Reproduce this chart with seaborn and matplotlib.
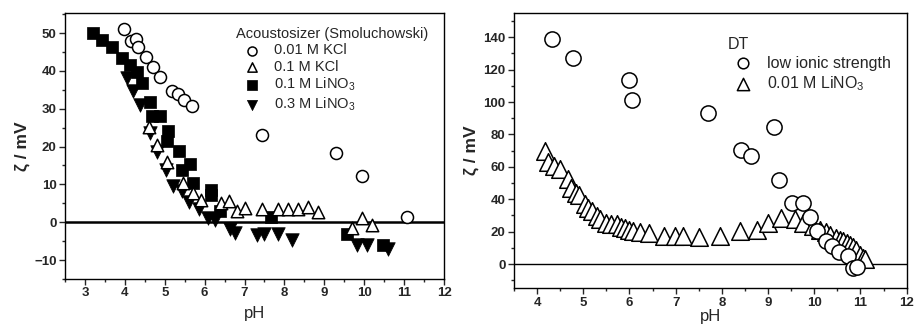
import numpy as np
import pandas as pd
import matplotlib
matplotlib.use("Agg")
import matplotlib.pyplot as plt
from matplotlib.ticker import MultipleLocator
import seaborn as sns

# ---------------- data (left panel: Acoustosizer) ----------------
kcl001_ph = [3.98, 4.15, 4.28, 4.34, 4.52, 4.70, 4.88, 5.19, 5.34, 5.47, 5.69, 7.43, 9.29, 9.95, 11.08]
kcl001_z = [51.0, 47.8, 48.4, 46.4, 43.6, 41.1, 38.4, 34.6, 33.9, 32.2, 30.6, 23.1, 18.3, 12.1, 1.4]

kcl01_ph = [4.6, 4.8, 5.05, 5.45, 5.7, 5.9, 6.4, 6.6, 6.8, 7.0, 7.45, 7.85, 8.1, 8.35, 8.6, 8.85, 9.7, 9.95, 10.2]
kcl01_z = [25.3, 20.5, 16.0, 10.4, 7.8, 6.0, 5.1, 5.5, 2.9, 3.8, 3.5, 3.5, 3.5, 3.5, 4.0, 2.6, -1.5, 1.2, -0.6]

lino01_ph = [3.21, 3.42, 3.68, 3.94, 4.13, 4.30, 4.42, 4.63, 4.67, 4.88, 5.05, 5.09, 5.36, 5.44, 5.63, 5.72, 6.15, 6.17, 6.38, 7.66, 9.56, 10.46]
lino01_z = [50.0, 48.2, 46.4, 43.4, 41.6, 39.8, 36.8, 31.9, 28.0, 28.0, 21.4, 24.0, 18.7, 13.9, 15.5, 10.4, 8.6, 7.3, 2.9, 1.3, -3.2, -5.9]

lino03_ph = [4.05, 4.21, 4.38, 4.63, 4.80, 5.04, 5.21, 5.42, 5.61, 5.85, 6.09, 6.27, 6.63, 6.77, 7.32, 7.48, 7.83, 8.20, 9.83, 10.08, 10.60]
lino03_z = [38.1, 34.6, 31.0, 23.6, 18.5, 13.7, 9.5, 8.2, 5.4, 3.4, 1.0, 0.7, -1.9, -2.8, -3.4, -3.2, -3.0, -4.6, -6.1, -5.9, -7.0]

# ---------------- data (right panel: DT) ----------------
low_ph = [4.33, 4.78, 5.98, 6.06, 7.69, 8.42, 8.63, 9.12, 9.24, 9.51, 9.76, 9.90, 10.07, 10.25, 10.39, 10.54, 10.72, 10.83, 10.93]
low_z = [139.0, 127.0, 113.5, 101.5, 93.5, 70.5, 66.8, 84.5, 52.0, 37.7, 37.7, 28.8, 20.2, 14.3, 10.9, 7.3, 4.7, -2.5, -1.8]

dt_lino_ph = [4.17, 4.24, 4.37, 4.49, 4.67, 4.74, 4.85, 4.91, 5.03, 5.10, 5.18, 5.29, 5.36, 5.50, 5.60, 5.72, 5.82, 5.90,
              6.00, 6.08, 6.22, 6.42, 6.74, 6.98, 7.16, 7.51, 7.97, 8.39, 8.75, 9.00, 9.29, 9.58, 9.76, 9.97,
              10.12, 10.25, 10.34, 10.48, 10.55, 10.62, 10.70, 10.77, 10.84, 10.91, 10.98, 11.06, 11.09]
dt_lino_z = [69.9, 62.7, 60.6, 58.6, 52.4, 47.2, 44.1, 42.4, 36.8, 34.5, 32.7, 29.6, 27.5, 25.5, 25.0, 24.4, 23.0, 22.4,
             21.0, 20.2, 19.6, 19.3, 17.6, 17.6, 17.6, 16.8, 17.6, 20.2, 21.3, 25.5, 28.6, 27.5, 25.5, 23.4,
             21.3, 19.5, 18.2, 16.1, 15.0, 14.0, 13.0, 12.0, 10.5, 8.9, 5.8, 3.7, 3.1]

left_labels = ["0.01 M KCl", "0.1 M KCl", "0.1 M LiNO$_3$", "0.3 M LiNO$_3$"]
right_labels = ["low ionic strength", "0.01 M LiNO$_3$"]

sns.set_theme(style="ticks")
plt.rcParams["font.family"] = ["Liberation Sans", "DejaVu Sans"]
plt.rcParams["mathtext.default"] = "regular"
plt.rcParams["axes.linewidth"] = 1.0

fig = plt.figure(figsize=(9.17, 3.29), dpi=100)
axL = fig.add_axes([0.0709, 0.152, 0.4133, 0.8085])
axR = fig.add_axes([0.5605, 0.1237, 0.4282, 0.8368])

# left panel
open_kw = dict(facecolor="white", edgecolor="black", linewidth=1.1)
fill_kw = dict(facecolor="black", edgecolor="black", linewidth=0.5)
sns.scatterplot(x=lino01_ph, y=lino01_z, ax=axL, marker="s", s=75, label=left_labels[2], zorder=3, **fill_kw)
sns.scatterplot(x=lino03_ph, y=lino03_z, ax=axL, marker="v", s=95, label=left_labels[3], zorder=3, **fill_kw)
sns.scatterplot(x=kcl01_ph, y=kcl01_z, ax=axL, marker="^", s=80, label=left_labels[1], zorder=4, **open_kw)
sns.scatterplot(x=kcl001_ph, y=kcl001_z, ax=axL, marker="o", s=75, label=left_labels[0], zorder=4, **open_kw)
axL.axhline(0, color="black", lw=1.8, zorder=2)
axL.set_xlim(2.5, 12)
axL.set_ylim(-15, 55.3)
axL.xaxis.set_major_locator(MultipleLocator(1))
axL.xaxis.set_minor_locator(MultipleLocator(0.5))
axL.yaxis.set_major_locator(MultipleLocator(10))
axL.yaxis.set_minor_locator(MultipleLocator(5))

# right panel
sns.scatterplot(x=dt_lino_ph, y=dt_lino_z, ax=axR, marker="^", s=160, label=right_labels[1], zorder=3, **open_kw)
sns.scatterplot(x=low_ph, y=low_z, ax=axR, marker="o", s=120, label=right_labels[0], zorder=4, **open_kw)
axR.axhline(0, color="black", lw=1.0, zorder=2)
axR.set_xlim(3.5, 12)
axR.set_ylim(-15, 155)
axR.xaxis.set_major_locator(MultipleLocator(1))
axR.xaxis.set_minor_locator(MultipleLocator(0.5))
axR.yaxis.set_major_locator(MultipleLocator(20))
axR.yaxis.set_minor_locator(MultipleLocator(10))

for ax, lp in ((axL, 5), (axR, 0)):
    for sp in ax.spines.values():
        sp.set_visible(True)
        sp.set_color("black")
        sp.set_linewidth(1.0)
    ax.tick_params(which="major", direction="out", length=4, width=1, labelsize=9.5, pad=2)
    ax.tick_params(which="minor", direction="out", length=2.5, width=1)
    for lab in ax.get_xticklabels() + ax.get_yticklabels():
        lab.set_fontweight("bold")
    ax.set_xlabel("pH", fontsize=12, labelpad=lp)
    ax.set_ylabel("ζ / mV", fontsize=12.5, fontweight="bold", labelpad=3)

# legends
h, l = axL.get_legend_handles_labels()
order = [l.index(t) for t in left_labels]
legL = axL.legend([h[i] for i in order], [l[i] for i in order], title="Acoustosizer (Smoluchowski)",
                  loc="upper left", bbox_to_anchor=(0.425, 0.985), frameon=False, fontsize=10.5,
                  title_fontsize=10.5, alignment="left", markerscale=0.75, handlelength=2.2,
                  handletextpad=0.4, labelspacing=0.15, borderpad=0.2)

h, l = axR.get_legend_handles_labels()
order = [l.index(t) for t in right_labels]
legR = axR.legend([h[i] for i in order], [l[i] for i in order], title="DT",
                  loc="upper left", bbox_to_anchor=(0.515, 0.955), frameon=False, fontsize=11.5,
                  title_fontsize=11.5, alignment="left", markerscale=0.7, handlelength=1.9,
                  handletextpad=0.6, labelspacing=0.25, borderpad=0.2)

fig.savefig("out.png", dpi=100)
